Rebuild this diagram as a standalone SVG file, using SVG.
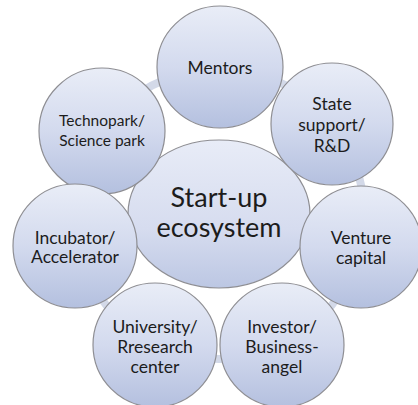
<svg xmlns="http://www.w3.org/2000/svg" width="418" height="405" viewBox="0 0 418 405">
  <defs>
    <linearGradient id="g" x1="0" y1="0" x2="0" y2="1">
      <stop offset="0" stop-color="#e9edf7"/>
      <stop offset="0.5" stop-color="#d3daee"/>
      <stop offset="1" stop-color="#b4c0df"/>
    </linearGradient>
    <linearGradient id="gc" x1="0" y1="0" x2="0" y2="1">
      <stop offset="0" stop-color="#e8ecf7"/>
      <stop offset="0.6" stop-color="#d6dcef"/>
      <stop offset="1" stop-color="#bcc7e3"/>
    </linearGradient>
  </defs>
  <style>
    .n { fill: url(#g); stroke: #8e8e93; stroke-width: 1.2; }
    .c { fill: url(#gc); stroke: #8e8e93; stroke-width: 1.2; }
    .t { font-family: Lato, "Liberation Sans", sans-serif; fill: #1c1c1c; text-anchor: middle; }
    .s { font-size: 17.5px; }
    .ring { fill: none; stroke: #d3d9e8; stroke-width: 8; }
  </style>
  <rect width="418" height="405" fill="#ffffff"/>
  <g id="connectors">
    <circle class="ring" cx="219" cy="214" r="145"/>
  </g>
  <g id="center">
    <ellipse class="c" cx="219" cy="214" rx="91" ry="74"/>
    <text class="t" font-size="27" x="219" y="207">Start-up</text>
    <text class="t" font-size="27" x="219" y="237">ecosystem</text>
  </g>
  <g id="technopark">
    <circle class="n" cx="102" cy="131" r="63"/>
    <text class="t" font-size="15.5" x="102" y="126">Technopark/</text>
    <text class="t" font-size="15.5" x="102" y="146">Science park</text>
  </g>
  <g id="mentors">
    <ellipse class="n" cx="220" cy="67" rx="63" ry="61"/>
    <text class="t s" x="220" y="74">Mentors</text>
  </g>
  <g id="state">
    <circle class="n" cx="332" cy="124" r="61"/>
    <text class="t s" x="332" y="110">State</text>
    <text class="t s" x="332" y="131">support/</text>
    <text class="t s" x="332" y="152">R&amp;D</text>
  </g>
  <g id="incubator">
    <circle class="n" cx="75" cy="246" r="62"/>
    <text class="t s" x="75" y="244">Incubator/</text>
    <text class="t s" x="75" y="263">Accelerator</text>
  </g>
  <g id="venture">
    <circle class="n" cx="361" cy="247" r="61"/>
    <text class="t s" x="361" y="244">Venture</text>
    <text class="t s" x="361" y="264">capital</text>
  </g>
  <g id="university">
    <circle class="n" cx="155" cy="345" r="62"/>
    <text class="t s" x="155" y="333">University/</text>
    <text class="t s" x="155" y="353">Rresearch</text>
    <text class="t s" x="155" y="373">center</text>
  </g>
  <g id="investor">
    <circle class="n" cx="282" cy="345" r="62"/>
    <text class="t s" x="282" y="333">Investor/</text>
    <text class="t s" x="282" y="353">Business-</text>
    <text class="t s" x="282" y="373">angel</text>
  </g>
</svg>
